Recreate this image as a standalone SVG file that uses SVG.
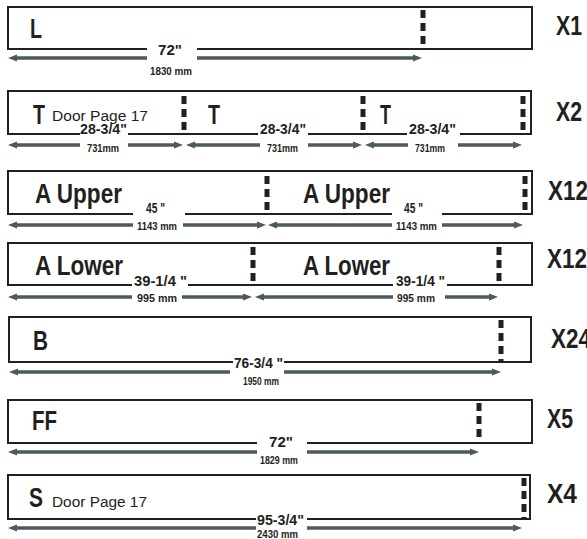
<svg xmlns="http://www.w3.org/2000/svg" width="587" height="539" viewBox="0 0 587 539">
<style>
.box{fill:none;stroke:#231f20;stroke-width:2}
.cut{stroke:#231f20;stroke-width:5;stroke-dasharray:8 5}
.arr{stroke:#4d5a5c;stroke-width:3.3;fill:none}
text{font-family:"Liberation Sans",Arial,sans-serif;fill:#231f20}
.lbl{font-size:27px;font-weight:bold}
.door{font-size:15.5px}
.dim{font-size:14px;font-weight:bold}
.mm{font-size:11px;font-weight:bold}
.qty{font-size:28px;font-weight:bold}
</style>
<defs>
<marker id="ah" markerUnits="userSpaceOnUse" markerWidth="10" markerHeight="7" refX="2" refY="3.5" orient="auto" overflow="visible">
<path d="M0,0 L9,3.5 L0,7 z" fill="#4d5a5c"/>
</marker>
</defs>
<rect width="587" height="539" fill="#fff"/>

<g id="row-L">
<path class="box" d="M147,49 H8 V7 H532 V49 H197"/>
<line class="cut" x1="423" y1="10" x2="423" y2="48"/>
<text class="lbl" x="30" y="38" textLength="12" lengthAdjust="spacingAndGlyphs">L</text>
<text class="dim" x="158" y="55" textLength="24" lengthAdjust="spacingAndGlyphs">72"</text>
<text class="mm" x="150" y="75" textLength="42" lengthAdjust="spacingAndGlyphs">1830 mm</text>
<text class="qty" x="556" y="35" textLength="26" lengthAdjust="spacingAndGlyphs">X1</text>
</g>

<g id="row-T">
<path class="box" d="M80,134 H8 V91 H531 V134 H460 M407,134 H308 M258,134 H128"/>
<line class="cut" x1="184" y1="96" x2="184" y2="134"/>
<line class="cut" x1="363" y1="96" x2="363" y2="134"/>
<line class="cut" x1="523" y1="96" x2="523" y2="134"/>
<text class="lbl" x="33" y="124" textLength="12" lengthAdjust="spacingAndGlyphs">T</text>
<text class="door" x="52" y="121" textLength="96" lengthAdjust="spacingAndGlyphs">Door Page 17</text>
<text class="lbl" x="208" y="124" textLength="12" lengthAdjust="spacingAndGlyphs">T</text>
<text class="lbl" x="380" y="124" textLength="11" lengthAdjust="spacingAndGlyphs">T</text>
<text class="dim" x="80" y="134" textLength="47" lengthAdjust="spacingAndGlyphs">28-3/4"</text>
<text class="dim" x="260" y="134" textLength="46" lengthAdjust="spacingAndGlyphs">28-3/4"</text>
<text class="dim" x="409" y="134" textLength="47" lengthAdjust="spacingAndGlyphs">28-3/4"</text>
<text class="mm" x="87" y="152" textLength="32" lengthAdjust="spacingAndGlyphs">731mm</text>
<text class="mm" x="267" y="152" textLength="31" lengthAdjust="spacingAndGlyphs">731mm</text>
<text class="mm" x="415" y="152" textLength="30" lengthAdjust="spacingAndGlyphs">731mm</text>
<text class="qty" x="556" y="121" textLength="26" lengthAdjust="spacingAndGlyphs">X2</text>
</g>

<g id="row-A-upper">
<path class="box" d="M133,214 H8 V171 H532 V214 H442 M392,214 H185"/>
<line class="cut" x1="267" y1="176" x2="267" y2="214"/>
<line class="cut" x1="525" y1="176" x2="525" y2="214"/>
<text class="lbl" x="35" y="203" textLength="87" lengthAdjust="spacingAndGlyphs">A Upper</text>
<text class="lbl" x="303" y="203" textLength="87" lengthAdjust="spacingAndGlyphs">A Upper</text>
<text class="dim" x="146" y="213" textLength="19" lengthAdjust="spacingAndGlyphs">45 "</text>
<text class="dim" x="404" y="213" textLength="19" lengthAdjust="spacingAndGlyphs">45 "</text>
<text class="mm" x="137" y="230" textLength="40" lengthAdjust="spacingAndGlyphs">1143 mm</text>
<text class="mm" x="396" y="230" textLength="41" lengthAdjust="spacingAndGlyphs">1143 mm</text>
<text class="qty" x="548" y="200" textLength="40" lengthAdjust="spacingAndGlyphs">X12</text>
</g>

<g id="row-A-lower">
<path class="box" d="M132,285 H8 V243 H532 V285 H447 M393,285 H188"/>
<line class="cut" x1="253" y1="247" x2="253" y2="285"/>
<line class="cut" x1="499" y1="247" x2="499" y2="285"/>
<text class="lbl" x="35" y="275" textLength="88" lengthAdjust="spacingAndGlyphs">A Lower</text>
<text class="lbl" x="303" y="275" textLength="87" lengthAdjust="spacingAndGlyphs">A Lower</text>
<text class="dim" x="134" y="286" textLength="53" lengthAdjust="spacingAndGlyphs">39-1/4 "</text>
<text class="dim" x="396" y="286" textLength="49" lengthAdjust="spacingAndGlyphs">39-1/4 "</text>
<text class="mm" x="137" y="302" textLength="40" lengthAdjust="spacingAndGlyphs">995 mm</text>
<text class="mm" x="397" y="302" textLength="38" lengthAdjust="spacingAndGlyphs">995 mm</text>
<text class="qty" x="547" y="268" textLength="40" lengthAdjust="spacingAndGlyphs">X12</text>
</g>

<g id="row-B">
<path class="box" d="M233,362 H9 V317 H531 V362 H284"/>
<line class="cut" x1="501" y1="320" x2="501" y2="362"/>
<text class="lbl" x="33" y="350" textLength="15" lengthAdjust="spacingAndGlyphs">B</text>
<text class="dim" x="234" y="368" textLength="49" lengthAdjust="spacingAndGlyphs">76-3/4 "</text>
<text class="mm" x="243" y="385" textLength="36" lengthAdjust="spacingAndGlyphs">1950 mm</text>
<text class="qty" x="551" y="348" textLength="40" lengthAdjust="spacingAndGlyphs">X24</text>
</g>

<g id="row-FF">
<path class="box" d="M257,443 H8 V400 H532 V443 H307"/>
<line class="cut" x1="479" y1="403" x2="479" y2="443"/>
<text class="lbl" x="32" y="430" textLength="25" lengthAdjust="spacingAndGlyphs">FF</text>
<text class="dim" x="269" y="447" textLength="24" lengthAdjust="spacingAndGlyphs">72"</text>
<text class="mm" x="260" y="464" textLength="38" lengthAdjust="spacingAndGlyphs">1829 mm</text>
<text class="qty" x="547" y="428" textLength="26" lengthAdjust="spacingAndGlyphs">X5</text>
</g>

<g id="row-S">
<path class="box" d="M256,519 H8 V475 H530 V519 H307"/>
<line class="cut" x1="524" y1="478" x2="524" y2="519"/>
<text class="lbl" x="29" y="507" textLength="14" lengthAdjust="spacingAndGlyphs">S</text>
<text class="door" x="52" y="507" textLength="95" lengthAdjust="spacingAndGlyphs">Door Page 17</text>
<text class="dim" x="257" y="525" textLength="47" lengthAdjust="spacingAndGlyphs">95-3/4"</text>
<text class="mm" x="257" y="538" textLength="41" lengthAdjust="spacingAndGlyphs">2430 mm</text>
<text class="qty" x="547" y="503" textLength="30" lengthAdjust="spacingAndGlyphs">X4</text>
</g>

<g id="connectors">
<line class="arr" x1="147" y1="58" x2="15" y2="58" marker-end="url(#ah)"/>
<line class="arr" x1="197" y1="58" x2="415" y2="58" marker-end="url(#ah)"/>

<line class="arr" x1="80" y1="145" x2="15" y2="145" marker-end="url(#ah)"/>
<line class="arr" x1="128" y1="145" x2="176" y2="145" marker-end="url(#ah)"/>
<line class="arr" x1="260" y1="145" x2="193" y2="145" marker-end="url(#ah)"/>
<line class="arr" x1="308" y1="145" x2="355" y2="145" marker-end="url(#ah)"/>
<line class="arr" x1="408" y1="145" x2="372" y2="145" marker-end="url(#ah)"/>
<line class="arr" x1="458" y1="145" x2="515" y2="145" marker-end="url(#ah)"/>

<line class="arr" x1="133" y1="225" x2="15" y2="225" marker-end="url(#ah)"/>
<line class="arr" x1="183" y1="225" x2="259" y2="225" marker-end="url(#ah)"/>
<line class="arr" x1="392" y1="225" x2="275" y2="225" marker-end="url(#ah)"/>
<line class="arr" x1="442" y1="225" x2="516" y2="225" marker-end="url(#ah)"/>

<line class="arr" x1="132" y1="297" x2="15" y2="297" marker-end="url(#ah)"/>
<line class="arr" x1="182" y1="297" x2="245" y2="297" marker-end="url(#ah)"/>
<line class="arr" x1="393" y1="297" x2="262" y2="297" marker-end="url(#ah)"/>
<line class="arr" x1="445" y1="297" x2="491" y2="297" marker-end="url(#ah)"/>

<line class="arr" x1="230" y1="372" x2="16" y2="372" marker-end="url(#ah)"/>
<line class="arr" x1="284" y1="372" x2="494" y2="372" marker-end="url(#ah)"/>

<line class="arr" x1="257" y1="452" x2="15" y2="452" marker-end="url(#ah)"/>
<line class="arr" x1="307" y1="452" x2="472" y2="452" marker-end="url(#ah)"/>

<line class="arr" x1="256" y1="528" x2="15" y2="528" marker-end="url(#ah)"/>
<line class="arr" x1="307" y1="528" x2="515" y2="528" marker-end="url(#ah)"/>
</g>
</svg>
